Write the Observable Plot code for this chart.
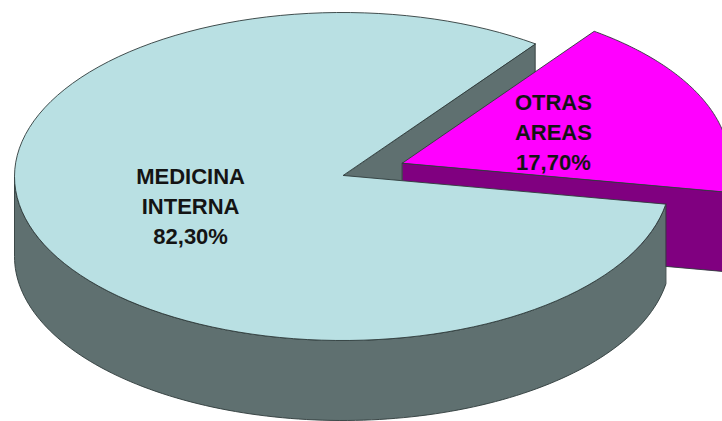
<!DOCTYPE html>
<html lang="es">
<head>
<meta charset="utf-8">
<title>Medicina interna y otras áreas</title>
<script src="https://cdn.jsdelivr.net/npm/d3@7"></script>
<script src="https://cdn.jsdelivr.net/npm/@observablehq/plot@0.6"></script>
<style>
  html, body { margin: 0; padding: 0; background: #fff; overflow: hidden; }
  svg { display: block; }
</style>
</head>
<body>
<div id="chart"></div>
<script>
// Share of each area, in percent
const categories = ["MEDICINA\nINTERNA", "OTRAS\nAREAS"];
const shares = [82.3, 17.7];

// Top and side colours per slice
const topColors = ["#b9e0e3", "#ff00ff"];
const sideColors = ["#5f7070", "#800080"];

// Tilted disc: ellipse centre and radii, rim depth, the point where the slices meet,
// and how far the small slice is pulled out
const centre = {x: 342, y: 176};
const rx = 328, ry = 164, depth = 80;
const apex = {x: 343, y: 175};
const pull = {x: 59, y: -12.5};
const firstAngle = 99.7 * Math.PI / 180;

const slices = d3.pie().sort(null).startAngle(firstAngle).endAngle(firstAngle + 2 * Math.PI)(shares);
const [main, other] = slices;

const shift = (p) => ({x: p.x + pull.x, y: p.y + pull.y});
const at = (origin, a, f = 1, drop = 0) => ({
  x: origin.x + rx * f * Math.sin(a),
  y: origin.y - ry * f * Math.cos(a) + drop
});
const arc = (origin, a0, a1, drop = 0) =>
  d3.range(0, 121).map((i) => at(origin, a0 + (a1 - a0) * i / 120, 1, drop));

const face = (tip, origin, s) => [tip, ...arc(origin, s.startAngle, s.endAngle)];
const rim = (origin, a0, a1) => [...arc(origin, a0, a1), ...arc(origin, a1, a0, depth)];
const cutWall = (tip, origin, a) => {
  const p = at(origin, a);
  return [tip, p, {x: p.x, y: p.y + depth}, {x: tip.x, y: tip.y + depth}];
};

const otherCentre = shift(centre);
const otherApex = shift(apex);
const mid = (s) => (s.startAngle + s.endAngle) / 2;
const percent = (v) => v.toFixed(2).replace(".", ",") + "%";

const poly = (points, fill) => Plot.line(points, {
  x: "x", y: "y", curve: "linear-closed", fill,
  stroke: "#2f3b3b", strokeWidth: 0.9, strokeLinejoin: "round", clip: true
});

const labels = slices.map((s, i) => ({
  ...at(i === 0 ? centre : otherCentre, mid(s), 0.5),
  text: categories[i] + "\n" + percent(shares[i])
}));

const plot = Plot.plot({
  width: 722,
  height: 421,
  margin: 0,
  style: {background: "#fff"},
  x: {domain: [0, 722], axis: null},
  y: {domain: [421, 0], axis: null},
  marks: [
    // back to front, so nearer faces hide what lies behind them
    poly(cutWall(apex, centre, main.endAngle), sideColors[0]),
    poly(rim(otherCentre, Math.PI / 2, main.startAngle), sideColors[1]),
    poly(cutWall(otherApex, otherCentre, main.startAngle), sideColors[1]),
    poly(face(otherApex, otherCentre, other), topColors[1]),
    poly(rim(centre, main.startAngle, 3 * Math.PI / 2), sideColors[0]),
    poly(face(apex, centre, main), topColors[0]),
    Plot.text(labels, {
      x: "x", y: "y", dy: -3, text: "text",
      fontFamily: "Liberation Sans, Arial, sans-serif",
      fontWeight: "bold", fontSize: 22, lineHeight: 1.37,
      fill: "#141414", textAnchor: "middle"
    })
  ]
});
document.getElementById("chart").append(plot);
</script>
</body>
</html>
